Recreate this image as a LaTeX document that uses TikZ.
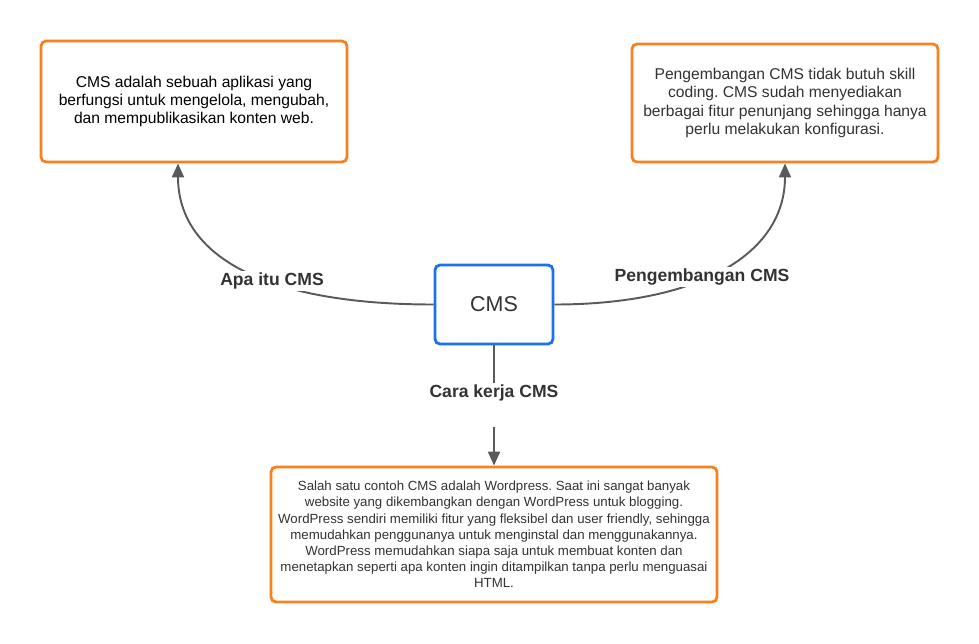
\documentclass[tikz,border=0pt]{standalone}
\usepackage{fontspec}
\setmainfont{Liberation Sans}
\usetikzlibrary{arrows.meta}
\frenchspacing

\definecolor{boxorange}{HTML}{F7811F}
\definecolor{boxblue}{HTML}{1A73E8}
\definecolor{linegray}{HTML}{5A5A5A}
\definecolor{textgray}{HTML}{333333}

\tikzset{
	infobox/.style={draw=boxorange, line width=1.6pt, rounded corners=0.1cm,
		fill=white, align=center, text=textgray},
	cmsbox/.style={draw=boxblue, line width=1.6pt, rounded corners=0.1cm,
		fill=white, text=textgray, font=\fontsize{12.2}{14}\selectfont},
	conn/.style={draw=linegray, line width=1.1pt},
	tip/.style={-{Triangle[length=0.28cm,width=0.24cm]}, linegray},
	lbl/.style={fill=white, inner sep=1pt, text=textgray,
		font=\fontsize{10}{12}\selectfont\bfseries}
}

\begin{document}
\begin{tikzpicture}
	\useasboundingbox (0,0) rectangle (19.58,12.86);
	
	%kotak
	\node[cmsbox, minimum width=2.36cm, minimum height=1.58cm] (cms) at (9.88,6.77) {CMS};
	\node[infobox, minimum width=6.12cm, minimum height=2.42cm,
		font=\fontsize{8.9}{10.3}\selectfont, text=black] (what) at (3.88,10.83)
		{CMS adalah sebuah aplikasi yang\\
		berfungsi untuk mengelola, mengubah,\\
		dan mempublikasikan konten web.};
	\node[infobox, minimum width=6.12cm, minimum height=2.36cm,
		font=\fontsize{8.9}{10.6}\selectfont] (dev) at (15.7,10.8)
		{Pengembangan CMS tidak butuh skill\\
		coding. CMS sudah menyediakan\\
		berbagai fitur penunjang sehingga hanya\\
		perlu melakukan konfigurasi.};
	\node[infobox, minimum width=8.92cm, minimum height=2.7cm,
		font=\fontsize{7.55}{9.2}\selectfont] (how) at (9.88,2.17)
		{Salah satu contoh CMS adalah Wordpress. Saat ini sangat banyak\\
		website yang dikembangkan dengan WordPress untuk blogging.\\
		WordPress sendiri memiliki fitur yang fleksibel dan user friendly, sehingga\\
		memudahkan penggunanya untuk menginstal dan menggunakannya.\\
		WordPress memudahkan siapa saja untuk membuat konten dan\\
		menetapkan seperti apa konten ingin ditampilkan tanpa perlu menguasai\\
		HTML.};
	
	%panah
	\draw[conn, tip] (cms.west) .. controls +(-3.48,0) and +(0,-1.8)
		.. ([xshift=-0.32cm]what.south);
	\draw[conn, tip] (cms.east) .. controls +(2.92,0) and +(0,-1.8)
		.. (dev.south);
	
	\node[lbl] (whatlbl) at (5.44,7.24) {Apa itu CMS};
	\node[lbl] (devlbl) at (14.04,7.32) {Pengembangan CMS};
	\node[lbl] (howlbl) at (9.88,5.0) {Cara kerja CMS};
	
	\coordinate (howstart) at (9.88,4.32);
	\draw[conn] (cms.south) -- (howlbl.north);
	\draw[conn, tip] (howstart) -- (how.north);
\end{tikzpicture}
\end{document}
